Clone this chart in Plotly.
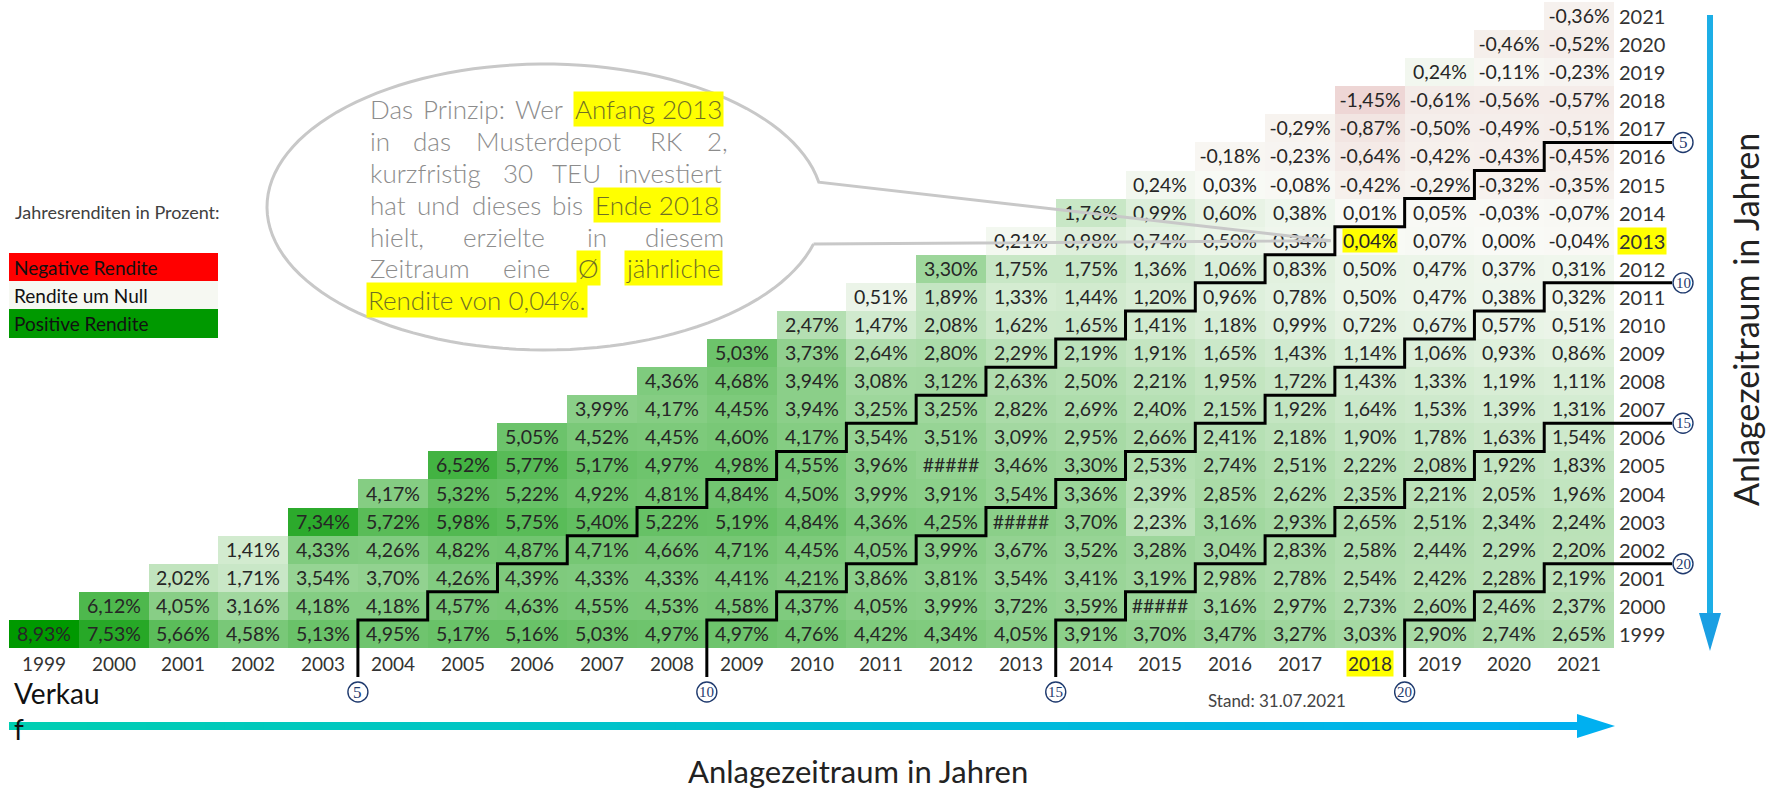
import math
import plotly.graph_objects as go

# ---------------- data ----------------
sell_years = list(range(1999, 2022))    # columns (Verkauf)
start_years = list(range(1999, 2022))   # rows (Anlagebeginn)

# average annual return in % for each start year, sell years start..2021
ret_1999 = [8.93, 7.53, 5.66, 4.58, 5.13, 4.95, 5.17, 5.16, 5.03, 4.97, 4.97, 4.76, 4.42, 4.34, 4.05, 3.91, 3.70, 3.47, 3.27, 3.03, 2.90, 2.74, 2.65]
ret_2000 = [6.12, 4.05, 3.16, 4.18, 4.18, 4.57, 4.63, 4.55, 4.53, 4.58, 4.37, 4.05, 3.99, 3.72, 3.59, 3.38, 3.16, 2.97, 2.73, 2.60, 2.46, 2.37]
ret_2001 = [2.02, 1.71, 3.54, 3.70, 4.26, 4.39, 4.33, 4.33, 4.41, 4.21, 3.86, 3.81, 3.54, 3.41, 3.19, 2.98, 2.78, 2.54, 2.42, 2.28, 2.19]
ret_2002 = [1.41, 4.33, 4.26, 4.82, 4.87, 4.71, 4.66, 4.71, 4.45, 4.05, 3.99, 3.67, 3.52, 3.28, 3.04, 2.83, 2.58, 2.44, 2.29, 2.20]
ret_2003 = [7.34, 5.72, 5.98, 5.75, 5.40, 5.22, 5.19, 4.84, 4.36, 4.25, 3.95, 3.70, 2.23, 3.16, 2.93, 2.65, 2.51, 2.34, 2.24]
ret_2004 = [4.17, 5.32, 5.22, 4.92, 4.81, 4.84, 4.50, 3.99, 3.91, 3.54, 3.36, 2.39, 2.85, 2.62, 2.35, 2.21, 2.05, 1.96]
ret_2005 = [6.52, 5.77, 5.17, 4.97, 4.98, 4.55, 3.96, 3.70, 3.46, 3.30, 2.53, 2.74, 2.51, 2.22, 2.08, 1.92, 1.83]
ret_2006 = [5.05, 4.52, 4.45, 4.60, 4.17, 3.54, 3.51, 3.09, 2.95, 2.66, 2.41, 2.18, 1.90, 1.78, 1.63, 1.54]
ret_2007 = [3.99, 4.17, 4.45, 3.94, 3.25, 3.25, 2.82, 2.69, 2.40, 2.15, 1.92, 1.64, 1.53, 1.39, 1.31]
ret_2008 = [4.36, 4.68, 3.94, 3.08, 3.12, 2.63, 2.50, 2.21, 1.95, 1.72, 1.43, 1.33, 1.19, 1.11]
ret_2009 = [5.03, 3.73, 2.64, 2.80, 2.29, 2.19, 1.91, 1.65, 1.43, 1.14, 1.06, 0.93, 0.86]
ret_2010 = [2.47, 1.47, 2.08, 1.62, 1.65, 1.41, 1.18, 0.99, 0.72, 0.67, 0.57, 0.51]
ret_2011 = [0.51, 1.89, 1.33, 1.44, 1.20, 0.96, 0.78, 0.50, 0.47, 0.38, 0.32]
ret_2012 = [3.30, 1.75, 1.75, 1.36, 1.06, 0.83, 0.50, 0.47, 0.37, 0.31]
ret_2013 = [0.21, 0.98, 0.74, 0.50, 0.34, 0.04, 0.07, 0.00, -0.04]
ret_2014 = [1.76, 0.99, 0.60, 0.38, 0.01, 0.05, -0.03, -0.07]
ret_2015 = [0.24, 0.03, -0.08, -0.42, -0.29, -0.32, -0.35]
ret_2016 = [-0.18, -0.23, -0.64, -0.42, -0.43, -0.45]
ret_2017 = [-0.29, -0.87, -0.50, -0.49, -0.51]
ret_2018 = [-1.45, -0.61, -0.56, -0.57]
ret_2019 = [0.24, -0.11, -0.23]
ret_2020 = [-0.46, -0.52]
ret_2021 = [-0.36]

row_lists = [ret_1999, ret_2000, ret_2001, ret_2002, ret_2003, ret_2004, ret_2005,
             ret_2006, ret_2007, ret_2008, ret_2009, ret_2010, ret_2011, ret_2012,
             ret_2013, ret_2014, ret_2015, ret_2016, ret_2017, ret_2018, ret_2019,
             ret_2020, ret_2021]

# cells shown as ##### in the original (values estimated for colour only)
overflow_cells = [(2005, 2012), (2003, 2013), (2000, 2015)]
highlight_start = 2013
highlight_sell = 2018
holding_marks = [5, 10, 15, 20]
stand_text = "Stand: 31.07.2021"


def fmt(v):
    return f"{v:.2f}".replace(".", ",") + "%"


z, txt = [], []
for s, vals in zip(start_years, row_lists):
    zr, tr = [], []
    for e in sell_years:
        if e < s:
            zr.append(None)
            tr.append("")
            continue
        v = vals[e - s]
        zr.append(v)
        if (s, e) in overflow_cells:
            tr.append("#####")
        elif (s, e) == (highlight_start, highlight_sell):
            tr.append("")
        else:
            tr.append(fmt(v))
    z.append(zr)
    txt.append(tr)

zmax = max(max(r) for r in row_lists)
hl_value = row_lists[start_years.index(highlight_start)][highlight_sell - highlight_start]

# ---------------- geometry ----------------
W, H = 1771, 789
GRID_L, GRID_R, GRID_T, GRID_B = 9, 1614, 2, 648
PLOT_R, PLOT_B = 1700, 705
NC, NR = len(sell_years), len(start_years)
CW = (GRID_R - GRID_L) / NC
RH = (GRID_B - GRID_T) / NR
x_lo = sell_years[0] - 0.5
y_hi = start_years[-1] + 0.5
x_hi = x_lo + (PLOT_R - GRID_L) / CW
y_lo = y_hi - (PLOT_B - GRID_T) / RH


def PX(px):
    return (px - GRID_L) / (PLOT_R - GRID_L)


def PY(py):
    return (PLOT_B - py) / (PLOT_B - GRID_T)


def dx2px(xd):
    return GRID_L + (xd - x_lo) * CW


def dy2px(yd):
    return GRID_T + (y_hi - yd) * RH


FONT = "Lato"
fig = go.Figure()
fig.add_trace(go.Heatmap(
    x=sell_years, y=start_years, z=z, text=txt, texttemplate="%{text}",
    textfont=dict(family=FONT, size=19.5, color="#262626"),
    colorscale=[[0, "#B51E2A"], [0.5, "#F9FAF6"], [1, "#009900"]],
    zmin=-zmax, zmax=zmax, showscale=False, hoverinfo="skip",
))

shapes = []
annotations = []


def pann(x, y, text, size, color, xanchor="center", yanchor="middle", **kw):
    font = dict(family=FONT, size=size, color=color)
    if "weight" in kw:
        font["weight"] = kw.pop("weight")
    annotations.append(dict(x=PX(x), y=PY(y), xref="paper", yref="paper",
                            xanchor=xanchor, yanchor=yanchor, text=text,
                            showarrow=False, font=font, **kw))


# staircase lines for holding periods
ext_y = (677 - GRID_B) / RH
ext_x = (1672 - GRID_R) / CW
for n in holding_marks:
    first_s = start_years[0]
    last_s = sell_years[-1] - n
    pts = [(first_s + n - 0.5, first_s - 0.5 - ext_y)]
    for s in range(first_s, last_s + 1):
        xb = s + n - 0.5
        pts.append((xb, s + 0.5))
        if s < last_s:
            pts.append((xb + 1, s + 0.5))
        else:
            pts.append((sell_years[-1] + 0.5 + ext_x, s + 0.5))
    path = "M " + " L ".join(f"{a:.4f},{b:.4f}" for a, b in pts)
    shapes.append(dict(type="path", xref="x", yref="y", path=path,
                       line=dict(color="black", width=3)))
    # circled labels
    for xa, ya in [(first_s + n - 0.5, first_s - 0.5 - (692 - GRID_B) / RH),
                   (sell_years[-1] + 0.5 + (1683 - GRID_R) / CW, last_s + 0.5)]:
        shapes.append(dict(type="circle", xref="x", yref="y", xsizemode="pixel",
                           ysizemode="pixel", xanchor=xa, yanchor=ya,
                           x0=-10, x1=10, y0=-10, y1=10,
                           line=dict(color="#1F3A6E", width=1.4), fillcolor="white"))
        annotations.append(dict(x=xa, y=ya, xref="x", yref="y", text=str(n),
                                showarrow=False, xanchor="center", yanchor="middle",
                                font=dict(family="Liberation Serif", size=17 if n < 10 else 15,
                                          color="#1F3A6E")))

# axis labels (years)
for e in sell_years:
    annotations.append(dict(x=e, y=start_years[0] - 0.5, xref="x", yref="y",
                            xanchor="center", yanchor="top", yshift=-2, text=str(e),
                            showarrow=False,
                            bgcolor="#FFFF00" if e == highlight_sell else None,
                            font=dict(family=FONT, size=19, color="#333333")))
for s in start_years:
    annotations.append(dict(x=sell_years[-1] + 0.5, y=s, xref="x", yref="y",
                            xanchor="left", yanchor="middle", xshift=3, text=str(s),
                            showarrow=False,
                            bgcolor="#FFFF00" if s == highlight_start else None,
                            font=dict(family=FONT, size=20, color="#333333")))

# highlighted cell
annotations.append(dict(x=highlight_sell, y=highlight_start, xref="x", yref="y",
                        xanchor="center", yanchor="middle",
                        text=fmt(hl_value), showarrow=False, bgcolor="#FFFF00",
                        borderpad=0, font=dict(family=FONT, size=19.5, color="#262626")))

# speech bubble (wedge ellipse callout)
cx, cy, rx, ry = 545, 207, 278, 143
tip_x = dx2px(highlight_sell - 0.5) - 4
tip_y = dy2px(highlight_start)
a0, a1 = math.radians(15), math.radians(350)
pts = []
N = 120
for i in range(N + 1):
    t = a0 + (a1 - a0) * i / N
    pts.append((cx + rx * math.cos(t), cy + ry * math.sin(t)))
pts.append((tip_x, tip_y))
pts.append(pts[0])
path = "M " + " L ".join(f"{PX(a):.5f},{PY(b):.5f}" for a, b in pts)
shapes.append(dict(type="path", xref="paper", yref="paper", path=path,
                   line=dict(color="#C8C8C8", width=3)))

bubble_lines = [
    (109, [("Das", 370, False), ("Prinzip:", 423, False), ("Wer", 515, False),
           (f"Anfang {highlight_start}", 577, True)]),
    (141, [("in", 370, False), ("das", 413, False), ("Musterdepot", 476, False),
           ("RK", 650, False), ("2,", 707, False)]),
    (173, [("kurzfristig", 370, False), ("30", 503, False), ("TEU", 552, False),
           ("investiert", 618, False)]),
    (205, [("hat", 370, False), ("und", 417, False), ("dieses", 472, False),
           ("bis", 552, False), (f"Ende {highlight_sell}", 597, True)]),
    (237, [("hielt,", 370, False), ("erzielte", 463, False), ("in", 587, False),
           ("diesem", 645, False)]),
    (268, [("Zeitraum", 370, False), ("eine", 503, False), ("Ø", 580, True),
           ("jährliche", 628, True)]),
    (300, [(f"Rendite von {fmt(hl_value)}.", 370, True)]),
]
for yy, words in bubble_lines:
    for w, xx, hl in words:
        pann(xx - (4 if hl else 2), yy, w, 26, "#6F6F25" if hl else "#8C8C8C",
             xanchor="left", weight=300,
             bgcolor="#FFFF00" if hl else None, borderpad=1)

# legend
pann(13, 212, "Jahresrenditen in Prozent:", 18, "#404040", xanchor="left")
for (lab, col, y0, y1) in [("Negative Rendite", "#FF0000", 253, 281),
                           ("Rendite um Null", "#F6F8F2", 281, 309),
                           ("Positive Rendite", "#009900", 309, 338)]:
    shapes.append(dict(type="rect", xref="paper", yref="paper", x0=PX(9), x1=PX(218),
                       y0=PY(y1), y1=PY(y0), fillcolor=col, line=dict(width=0)))
    pann(12, (y0 + y1) / 2, lab, 19, "#111111", xanchor="left")

# horizontal gradient arrow
c0, c1 = (0, 206, 178), (0, 176, 240)
hx0, hx1, hy0, hy1 = 9, 1578, 722, 730
NS = 80
for i in range(NS):
    f = i / (NS - 1)
    col = "rgb(%d,%d,%d)" % tuple(round(c0[k] + (c1[k] - c0[k]) * f) for k in range(3))
    xa = hx0 + (hx1 - hx0) * i / NS
    xb = hx0 + (hx1 - hx0) * (i + 1) / NS + 1
    shapes.append(dict(type="rect", xref="paper", yref="paper", x0=PX(xa), x1=PX(xb),
                       y0=PY(hy1), y1=PY(hy0), fillcolor=col, line=dict(width=0)))
shapes.append(dict(type="path", xref="paper", yref="paper",
                   path=f"M {PX(1577):.5f},{PY(714):.5f} L {PX(1615):.5f},{PY(726):.5f} L {PX(1577):.5f},{PY(738):.5f} Z",
                   fillcolor="rgb(0,176,240)", line=dict(width=0)))

# vertical arrow
shapes.append(dict(type="rect", xref="paper", yref="paper", x0=PX(1707), x1=PX(1713),
                   y0=PY(615), y1=PY(15), fillcolor="#1CAEE6", line=dict(width=0)))
shapes.append(dict(type="path", xref="paper", yref="paper",
                   path=f"M {PX(1699):.5f},{PY(613):.5f} L {PX(1721):.5f},{PY(613):.5f} L {PX(1710):.5f},{PY(651):.5f} Z",
                   fillcolor="#1A9FE3", line=dict(width=0)))

# other texts
pann(1277, 700, stand_text, 17, "#444444")
pann(12, 674, "Verkau<br>f", 28, "#111111", xanchor="left", yanchor="top", align="left")
pann(858, 771, "Anlagezeitraum in Jahren", 31, "#222222")
pann(1745, 319, "Anlagezeitraum in Jahren", 34, "#222222", textangle=-90)

fig.update_layout(
    width=W, height=H,
    margin=dict(l=GRID_L, r=W - PLOT_R, t=GRID_T, b=H - PLOT_B, pad=0),
    paper_bgcolor="white", plot_bgcolor="white",
    xaxis=dict(range=[x_lo, x_hi], visible=False, fixedrange=True),
    yaxis=dict(range=[y_lo, y_hi], visible=False, fixedrange=True),
    shapes=shapes, annotations=annotations, showlegend=False,
)

fig.write_html("out.html", config={"displayModeBar": False},
               post_script="document.body.style.margin='0';document.body.style.overflow='hidden';")
